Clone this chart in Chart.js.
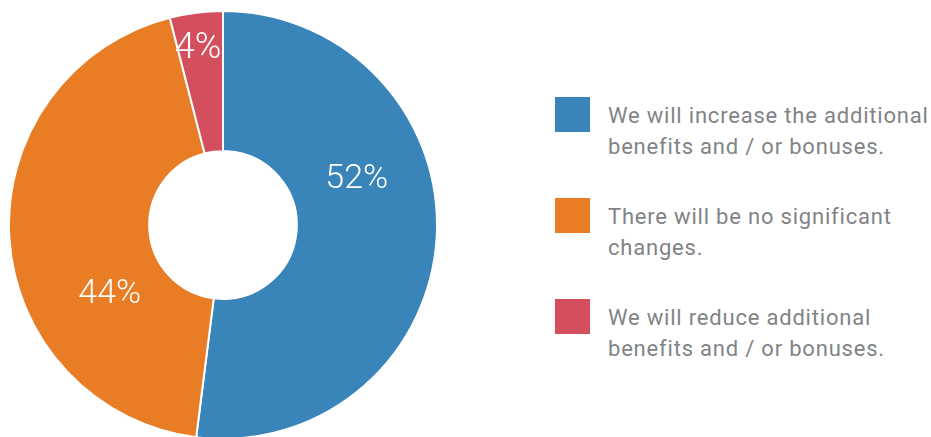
<!DOCTYPE html>
<html>
<head>
<meta charset="utf-8">
<script src="https://cdn.jsdelivr.net/npm/chart.js@4.4.1/dist/chart.umd.min.js"></script>
<style>
  html, body { margin: 0; padding: 0; background: #ffffff; }
  body { width: 931px; height: 437px; overflow: hidden; position: relative; font-family: Roboto, "Open Sans", sans-serif; }
  #pie { position: absolute; left: 8px; top: 10px; width: 430px; height: 430px; }
  #legend { position: absolute; left: 555px; top: 97px; }
  .item { position: relative; height: 101px; }
  .swatch { position: absolute; left: 0; top: 0; width: 35px; height: 35px; }
  .text { position: absolute; left: 53px; top: 3px; width: 360px; font-size: 22px; line-height: 31px; letter-spacing: 0.8px; color: #818386; white-space: nowrap; }
</style>
</head>
<body>
<div id="pie"><canvas id="c"></canvas></div>
<div id="legend"></div>
<script>
// Survey answers and their shares (percent)
const categories = [
  ["We will increase the additional", "benefits and / or bonuses."],
  ["There will be no significant", "changes."],
  ["We will reduce additional", "benefits and / or bonuses."]
];
const shares = [52, 44, 4];
const colors = ["#3984b8", "#e87d25", "#d44f5e"];

// Where each percentage sits inside its slice: fraction along the arc, fraction across the ring, font size
const labelPlacement = [
  { along: 0.373, across: 0.49, size: 34 },
  { along: 0.331, across: 0.41, size: 34 },
  { along: 0.45,  across: 0.77, size: 36 }
];

const sliceLabels = {
  id: 'sliceLabels',
  afterDatasetsDraw(chart) {
    const ctx = chart.ctx;
    const meta = chart.getDatasetMeta(0);
    ctx.save();
    ctx.fillStyle = '#ffffff';
    ctx.textAlign = 'center';
    ctx.textBaseline = 'alphabetic';
    meta.data.forEach((arc, i) => {
      const p = arc.getProps(['x', 'y', 'startAngle', 'endAngle', 'innerRadius', 'outerRadius'], true);
      const pl = labelPlacement[i];
      const a = p.startAngle + pl.along * (p.endAngle - p.startAngle);
      const r = p.innerRadius + pl.across * (p.outerRadius - p.innerRadius);
      ctx.font = '300 ' + pl.size + 'px Roboto, sans-serif';
      // centre the digits' cap height on the anchor point
      ctx.fillText(shares[i] + '%', p.x + Math.cos(a) * r, p.y + Math.sin(a) * r + pl.size * 0.355);
    });
    ctx.restore();
  }
};

const chart = new Chart(document.getElementById('c'), {
  type: 'doughnut',
  data: {
    labels: categories.map(l => l.join(' ')),
    datasets: [{
      data: shares,
      backgroundColor: colors,
      borderColor: '#ffffff',
      borderWidth: 2,
      hoverOffset: 0
    }]
  },
  options: {
    responsive: true,
    maintainAspectRatio: false,
    animation: false,
    cutout: '34.5%',
    layout: { padding: 0 },
    plugins: { legend: { display: false }, tooltip: { enabled: false } }
  },
  plugins: [sliceLabels]
});

// Legend built from the same categories and colours
const legend = document.getElementById('legend');
categories.forEach((lines, i) => {
  const item = document.createElement('div');
  item.className = 'item';
  const sw = document.createElement('div');
  sw.className = 'swatch';
  sw.style.background = colors[i];
  const tx = document.createElement('div');
  tx.className = 'text';
  tx.innerHTML = lines.join('<br>');
  item.appendChild(sw);
  item.appendChild(tx);
  legend.appendChild(item);
});
</script>
</body>
</html>
